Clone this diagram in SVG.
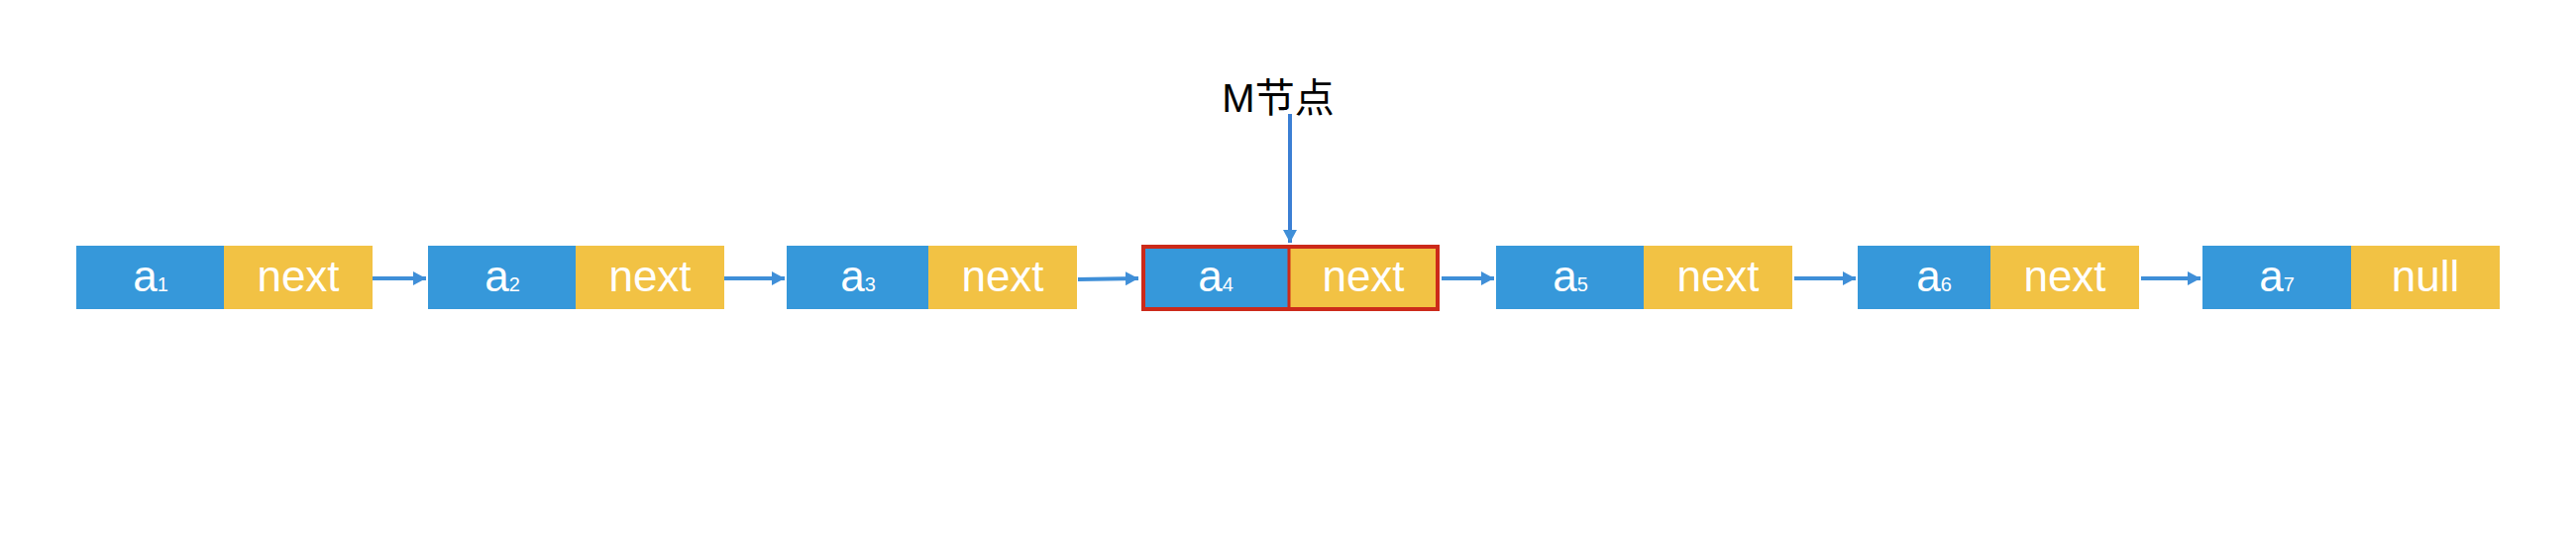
<svg xmlns="http://www.w3.org/2000/svg" width="2600" height="540" viewBox="0 0 2600 540">
<style>
.d{fill:#3698da}
.p{fill:#f2c244}
.t{font-family:"Liberation Sans",Arial,sans-serif;font-size:44px;fill:#ffffff;text-anchor:middle}
.s{font-size:20px}
.c{stroke:#3f8fd8;stroke-width:4;fill:none}
.lbl{font-family:"Liberation Sans","Noto Sans CJK SC",sans-serif;font-size:40px;fill:#000000;text-anchor:middle}
</style>
<defs>
<marker id="ah" markerUnits="userSpaceOnUse" markerWidth="14" markerHeight="14" viewBox="0 0 14 14" refX="13" refY="7" orient="auto">
<path d="M0,0 L13,7 L0,14 Z" fill="#3f8fd8"/>
</marker>
</defs>
<rect width="2600" height="540" fill="#ffffff"/>
<g id="n1">
<rect class="d" x="77" y="248" width="149" height="64"/>
<rect class="p" x="226" y="248" width="150" height="64"/>
<text class="t" x="152" y="294">a<tspan class="s">1</tspan></text>
<text class="t" x="301" y="294">next</text>
</g>
<g id="n2">
<rect class="d" x="432" y="248" width="149" height="64"/>
<rect class="p" x="581" y="248" width="150" height="64"/>
<text class="t" x="507" y="294">a<tspan class="s">2</tspan></text>
<text class="t" x="656" y="294">next</text>
</g>
<g id="n3">
<rect class="d" x="794" y="248" width="143" height="64"/>
<rect class="p" x="937" y="248" width="150" height="64"/>
<text class="t" x="866" y="294">a<tspan class="s">3</tspan></text>
<text class="t" x="1012" y="294">next</text>
</g>
<g id="n4">
<rect class="d" x="1154" y="250" width="147" height="62"/>
<rect class="p" x="1301" y="250" width="150" height="62"/>
<rect x="1154" y="249" width="297" height="63" fill="none" stroke="#cc2a1a" stroke-width="4"/>
<line x1="1301" y1="249" x2="1301" y2="312" stroke="#cc2a1a" stroke-width="3"/>
<text class="t" x="1227" y="294">a<tspan class="s">4</tspan></text>
<text class="t" x="1376" y="294">next</text>
</g>
<g id="n5">
<rect class="d" x="1510" y="248" width="149" height="64"/>
<rect class="p" x="1659" y="248" width="150" height="64"/>
<text class="t" x="1585" y="294">a<tspan class="s">5</tspan></text>
<text class="t" x="1734" y="294">next</text>
</g>
<g id="n6">
<rect class="d" x="1875" y="248" width="134" height="64"/>
<rect class="p" x="2009" y="248" width="150" height="64"/>
<text class="t" x="1952" y="294">a<tspan class="s">6</tspan></text>
<text class="t" x="2084" y="294">next</text>
</g>
<g id="n7">
<rect class="d" x="2223" y="248" width="150" height="64"/>
<rect class="p" x="2373" y="248" width="150" height="64"/>
<text class="t" x="2298" y="294">a<tspan class="s">7</tspan></text>
<text class="t" x="2448" y="294">null</text>
</g>
<g id="m">
<text class="lbl" x="1290" y="113">M节点</text>
</g>
<g id="connectors">
<line class="c" x1="376" y1="281" x2="430" y2="281" marker-end="url(#ah)"/>
<line class="c" x1="731" y1="281" x2="792" y2="281" marker-end="url(#ah)"/>
<line class="c" x1="1088" y1="282" x2="1149" y2="281" marker-end="url(#ah)"/>
<line class="c" x1="1455" y1="281" x2="1508" y2="281" marker-end="url(#ah)"/>
<line class="c" x1="1811" y1="281" x2="1873" y2="281" marker-end="url(#ah)"/>
<line class="c" x1="2161" y1="281" x2="2221" y2="281" marker-end="url(#ah)"/>
<line x1="1302" y1="115" x2="1302" y2="245" stroke="#3b7fd4" stroke-width="4" marker-end="url(#ah)"/>
</g>
</svg>
